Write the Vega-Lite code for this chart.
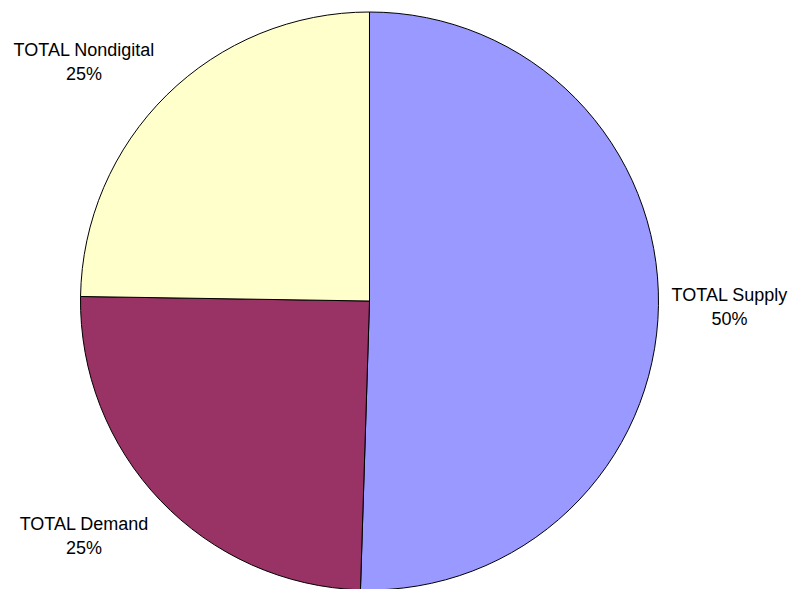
{
  "$schema": "https://vega.github.io/schema/vega-lite/v6.json",
  "width": 739,
  "height": 578,
  "autosize": {"type": "none"},
  "padding": {"left": 0, "top": 12, "right": 58, "bottom": 0},
  "background": "white",
  "config": {"view": {"stroke": null}},
  "data": {
    "values": [
      {"category": "TOTAL Supply", "value": 50.5, "label": "TOTAL Supply\n50%"},
      {"category": "TOTAL Demand", "value": 24.75, "label": "TOTAL Demand\n25%"},
      {"category": "TOTAL Nondigital", "value": 24.75, "label": "TOTAL Nondigital\n25%"}
    ]
  },
  "encoding": {
    "theta": {
      "field": "value",
      "type": "quantitative",
      "stack": true,
      "scale": {"range": [3.173, 9.456]}
    }
  },
  "layer": [
    {
      "mark": {"type": "arc", "outerRadius": 289, "stroke": "#000000", "strokeWidth": 1},
      "encoding": {
        "color": {
          "field": "category",
          "type": "nominal",
          "scale": {
            "domain": ["TOTAL Demand", "TOTAL Nondigital", "TOTAL Supply"],
            "range": ["#993366", "#FFFFCC", "#9999FF"]
          },
          "legend": null
        }
      }
    },
    {
      "mark": {"type": "text", "radius": 360, "dy": -11, "align": "center", "baseline": "middle", "lineBreak": "\n", "lineHeight": 24, "font": "Liberation Sans", "fontSize": 18, "fill": "#000000"},
      "encoding": {
        "detail": {"field": "category", "type": "nominal"},
        "text": {"condition": {"test": "datum.category === 'TOTAL Supply'", "field": "label"}, "value": ""}
      }
    },
    {
      "mark": {"type": "text", "radius": 360, "dx": -33, "dy": 7, "align": "center", "baseline": "middle", "lineBreak": "\n", "lineHeight": 24, "font": "Liberation Sans", "fontSize": 18, "fill": "#000000"},
      "encoding": {
        "detail": {"field": "category", "type": "nominal"},
        "text": {"condition": {"test": "datum.category === 'TOTAL Nondigital'", "field": "label"}, "value": ""}
      }
    },
    {
      "mark": {"type": "text", "radius": 360, "dx": -25, "dy": -24, "align": "center", "baseline": "middle", "lineBreak": "\n", "lineHeight": 24, "font": "Liberation Sans", "fontSize": 18, "fill": "#000000"},
      "encoding": {
        "detail": {"field": "category", "type": "nominal"},
        "text": {"condition": {"test": "datum.category === 'TOTAL Demand'", "field": "label"}, "value": ""}
      }
    }
  ]
}
